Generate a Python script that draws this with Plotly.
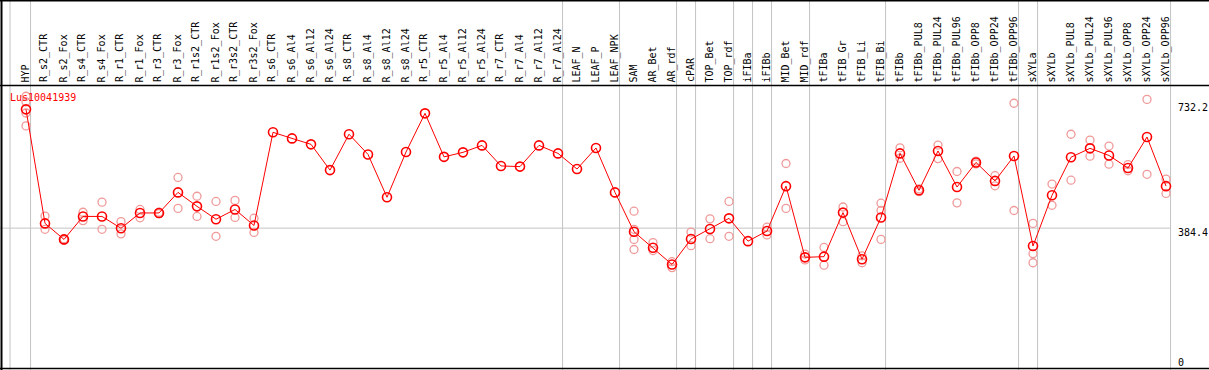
import plotly.graph_objects as go

title_text = "Lus10041939"

categories = [
    "HYP", "R_s2_CTR", "R_s2_Fox", "R_s4_CTR", "R_s4_Fox", "R_r1_CTR", "R_r1_Fox",
    "R_r3_CTR", "R_r3_Fox", "R_r1s2_CTR", "R_r1s2_Fox", "R_r3s2_CTR", "R_r3s2_Fox",
    "R_s6_CTR", "R_s6_Al4", "R_s6_Al12", "R_s6_Al24", "R_s8_CTR", "R_s8_Al4",
    "R_s8_Al12", "R_s8_Al24", "R_r5_CTR", "R_r5_Al4", "R_r5_Al12", "R_r5_Al24",
    "R_r7_CTR", "R_r7_Al4", "R_r7_Al12", "R_r7_Al24", "LEAF_N", "LEAF_P", "LEAF_NPK",
    "SAM", "AR_Bet", "AR_rdf", "cPAR", "TOP_Bet", "TOP_rdf", "iFIBa", "iFIBb",
    "MID_Bet", "MID_rdf", "tFIBa", "tFIB_Gr", "tFIB_Li", "tFIB_Bi", "tFIBb",
    "tFIBb_PUL8", "tFIBb_PUL24", "tFIBb_PUL96", "tFIBb_OPP8", "tFIBb_OPP24",
    "tFIBb_OPP96", "sXYLa", "sXYLb", "sXYLb_PUL8", "sXYLb_PUL24", "sXYLb_PUL96",
    "sXYLb_OPP8", "sXYLb_OPP24", "sXYLb_OPP96",
]

group_sizes = [1, 28, 3, 3, 1, 2, 1, 1, 2, 4, 7, 1, 7]

mean_values = [
    725.5, 398, 352, 418, 418, 384, 428, 428, 487, 447, 410, 438, 392,
    659.5, 642, 625, 551, 654, 596, 473, 603, 714, 589, 602, 622, 563, 561, 622, 599,
    554, 614.5, 487,
    374, 328, 280, 353, 382, 412.5, 347, 376, 505, 300.5,
    302.5, 429, 295, 415,
    599, 493, 606, 502.5, 573, 520, 591.5,
    333, 478.6, 588, 613.5, 593, 557, 646, 505,
]

replicate_values = [
    [763, 747, 715, 678], [419, 381], [354, 350], [430, 406], [459, 381],
    [403, 368], [438, 414], [430, 426], [530, 441], [476, 418], [461, 361],
    [464, 415], [413, 372],
    [], [], [], [], [], [], [], [], [], [], [], [], [], [], [], [],
    [], [], [],
    [433, 381, 352, 323], [343, 320], [288, 271], [373, 334], [411, 354],
    [461, 361], [], [387, 365], [570, 441], [310, 293],
    [329, 278], [445, 403], [305, 285], [456, 435, 352],
    [615, 585], [497, 489], [623, 584], [547, 457], [577, 569], [535, 506],
    [743, 435],
    [398, 311, 285], [511, 450], [654, 522], [637, 591], [620, 568],
    [567, 549], [754, 539], [525, 484],
]

y_tick_values = [0, 384.4, 732.2]
y_tick_labels = ["0", "384.4", "732.2"]

W, H = 1209, 370
MONO = "DejaVu Sans Mono"

idx = list(range(len(categories)))
rep_x, rep_y = [], []
for i, reps in enumerate(replicate_values):
    for v in reps:
        rep_x.append(i)
        rep_y.append(v)

fig = go.Figure()
fig.add_trace(go.Scatter(
    x=rep_x, y=rep_y, mode="markers", hoverinfo="skip",
    marker=dict(symbol="circle-open", size=8, color="#f09a9a",
                line=dict(width=1.3, color="#f09a9a")),
))
fig.add_trace(go.Scatter(
    x=idx, y=mean_values, mode="lines+markers", text=categories,
    line=dict(color="#ff0000", width=1),
    marker=dict(symbol="circle-open", size=9, color="#ff0000",
                line=dict(width=1.6, color="#ff0000")),
))

# axis mapping: category i -> 26 + 19*i px ; value 0 -> y 362 px, 732.2 -> y 107 px
px_per_cat = 19.0
x0_px = 26.0
x_range = [-x0_px / px_per_cat, (W - x0_px) / px_per_cat]
ppu = 255.0 / 732.2
y_range = [-(H - 362) / ppu, 362 / ppu]

shapes = []
boundaries = [-0.84]
acc = 0
for g in group_sizes:
    acc += g
    boundaries.append(acc - 1 + 0.24)
for b in boundaries:
    shapes.append(dict(type="line", xref="x", yref="paper", x0=b, x1=b, y0=0, y1=1,
                       line=dict(color="#c4c4c4", width=1), layer="below"))
shapes.append(dict(type="line", xref="x", yref="y", x0=x_range[0], x1=boundaries[-1],
                   y0=y_tick_values[1], y1=y_tick_values[1],
                   line=dict(color="#c4c4c4", width=1), layer="below"))

def hline(ypx, w=1):
    return dict(type="line", xref="paper", yref="paper", x0=0, x1=1,
                y0=1 - ypx / H, y1=1 - ypx / H, line=dict(color="black", width=w))
shapes.append(hline(0.5, 2))
shapes.append(hline(85.5, 1.5))
shapes.append(hline(368.5, 1.5))
shapes.append(dict(type="line", xref="paper", yref="paper", x0=1.5 / W, x1=1.5 / W,
                   y0=0, y1=1, line=dict(color="black", width=2)))

annotations = []
for i, c in enumerate(categories):
    annotations.append(dict(x=i, xref="x", y=1 - 83.5 / H, yref="paper", text=c,
                            textangle=-90, showarrow=False, xanchor="center",
                            yanchor="bottom", xshift=-1, borderpad=0,
                            font=dict(family=MONO, size=10, color="black")))
label_shift = [0, -4, 0]
for v, t, s in zip(y_tick_values, y_tick_labels, label_shift):
    annotations.append(dict(x=1177 / W, xref="paper", y=v, yref="y", text=t,
                            showarrow=False, xanchor="left", yanchor="middle",
                            yshift=s, borderpad=0,
                            font=dict(family=MONO, size=10, color="black")))
annotations.append(dict(x=9 / W, xref="paper", y=1 - 97 / H, yref="paper",
                        text=title_text, showarrow=False, xanchor="left",
                        yanchor="middle", borderpad=0,
                        font=dict(family=MONO, size=10, color="#ff0000")))

fig.update_layout(
    width=W, height=H, autosize=False,
    margin=dict(l=0, r=0, t=0, b=0),
    paper_bgcolor="white", plot_bgcolor="white",
    showlegend=False,
    xaxis=dict(range=x_range, visible=False, fixedrange=True),
    yaxis=dict(range=y_range, visible=False, fixedrange=True),
    shapes=shapes, annotations=annotations,
)

fig.write_html("out.html", include_plotlyjs=True, config={"displayModeBar": False},
               post_script="document.body.style.margin='0px';document.body.style.overflow='hidden';")
